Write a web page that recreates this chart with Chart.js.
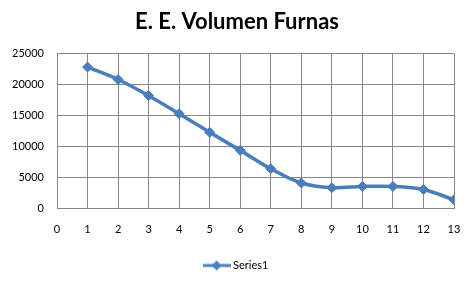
<!DOCTYPE html>
<html>
<head>
<meta charset="utf-8">
<script src="https://cdn.jsdelivr.net/npm/chart.js@4/dist/chart.umd.min.js"></script>
<style>
html,body{margin:0;padding:0;background:#fff;}
#wrap{width:474px;height:281px;position:relative;}
</style>
</head>
<body>
<div id="wrap"><canvas id="c" width="474" height="281"></canvas></div>
<script>
const titleText = "E. E. Volumen Furnas";
const seriesName = "Series1";
const xValues = [1, 2, 3, 4, 5, 6, 7, 8, 9, 10, 11, 12, 13];
const yValues = [22800, 20800, 18200, 15300, 12300, 9400, 6450, 4150, 3400, 3600, 3600, 3100, 1450];
const xTicks = [0, 1, 2, 3, 4, 5, 6, 7, 8, 9, 10, 11, 12, 13];
const yTicks = [0, 5000, 10000, 15000, 20000, 25000];

const blue = '#4A7EBB';
const grid = '#868686';

// legend marker: line with diamond
const mk = document.createElement('canvas');
mk.width = 28; mk.height = 12;
(function(){
  const g = mk.getContext('2d');
  g.strokeStyle = blue; g.lineWidth = 3;
  g.beginPath(); g.moveTo(0, 6); g.lineTo(28, 6); g.stroke();
  g.fillStyle = blue;
  g.beginPath(); g.moveTo(14, 1); g.lineTo(19, 6); g.lineTo(14, 11); g.lineTo(9, 6); g.closePath(); g.fill();
})();

new Chart(document.getElementById('c'), {
  type: 'line',
  data: {
    datasets: [{
      label: seriesName,
      data: xValues.map((x, i) => ({x: x, y: yValues[i]})),
      borderColor: blue,
      backgroundColor: blue,
      borderWidth: 3.5,
      tension: 0.35,
      pointStyle: 'rectRot',
      pointRadius: 5,
      pointBackgroundColor: blue,
      pointBorderColor: blue,
      pointBorderWidth: 1
    }]
  },
  options: {
    responsive: false,
    animation: false,
    layout: {padding: {left: 0, right: 0, top: 4, bottom: 0}},
    plugins: {
      title: {
        display: true,
        text: titleText,
        color: '#000',
        font: {family: 'Lato', size: 22, weight: 'bold'},
        padding: {top: 5, bottom: 18}
      },
      legend: {
        position: 'bottom',
        labels: {
          color: '#000',
          font: {family: 'Lato', size: 11},
          usePointStyle: true,
          pointStyle: mk,
          pointStyleWidth: 22,
          boxHeight: 11,
          padding: 10,
          generateLabels: (chart) => [{
            text: seriesName,
            pointStyle: mk,
            fillStyle: blue,
            strokeStyle: blue,
            lineWidth: 0,
            fontColor: '#000',
            datasetIndex: 0
          }]
        }
      },
      tooltip: {enabled: false}
    },
    scales: {
      x: {
        type: 'linear',
        min: 0, max: 13,
        afterBuildTicks: (s) => { s.ticks = xTicks.map(v => ({value: v})); },
        afterFit: (s) => { s.paddingRight = 20; },
        ticks: {color: '#000', font: {family: 'Lato', size: 11}, padding: 14, maxRotation: 0, autoSkip: false,
                callback: (v) => String(v)},
        grid: {color: grid, lineWidth: 1, drawTicks: false},
        border: {color: grid, width: 1}
      },
      y: {
        min: 0, max: 25000,
        afterBuildTicks: (s) => { s.ticks = yTicks.map(v => ({value: v})); },
        afterFit: (s) => { s.width = 57; },
        ticks: {color: '#000', font: {family: 'Lato', size: 11}, padding: 13,
                callback: (v) => String(v)},
        grid: {color: grid, lineWidth: 1, drawTicks: false},
        border: {color: grid, width: 1}
      }
    }
  }
});
</script>
</body>
</html>
